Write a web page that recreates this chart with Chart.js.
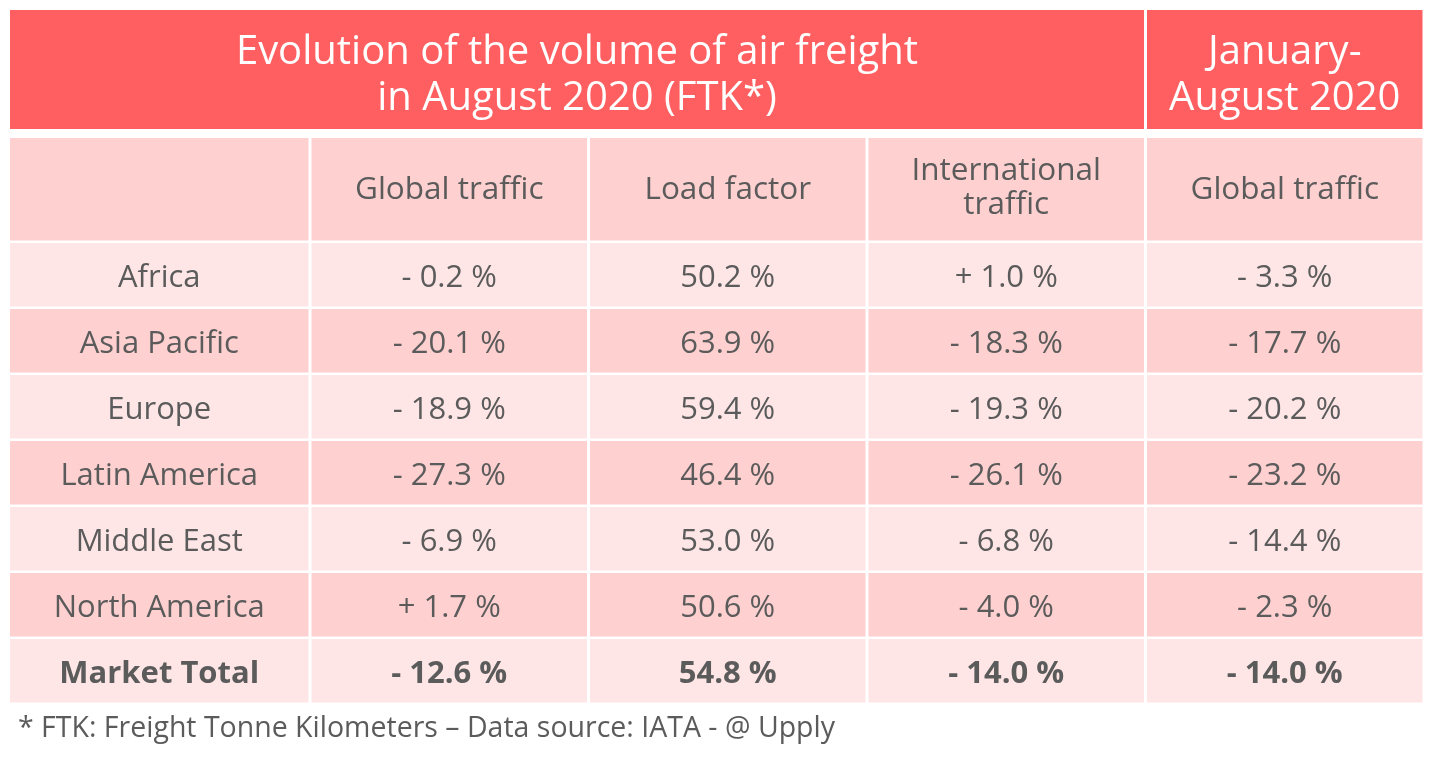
<!DOCTYPE html>
<html>
<head>
<meta charset="utf-8">
<script src="https://cdn.jsdelivr.net/npm/chart.js"></script>
<style>
  body { margin: 0; background: #fff; }
  #wrap { width: 1440px; height: 758px; }
</style>
</head>
<body>
<div id="wrap"><canvas id="freightChart"></canvas></div>
<script>
// data
const regions = ['Africa', 'Asia Pacific', 'Europe', 'Latin America', 'Middle East', 'North America', 'Market Total']
const columns = ['Global traffic', 'Load factor', 'International\ntraffic', 'Global traffic']
const globalTraffic = [-0.2, -20.1, -18.9, -27.3, -6.9, 1.7, -12.6]
const loadFactor = [50.2, 63.9, 59.4, 46.4, 53.0, 50.6, 54.8]
const intlTraffic = [1.0, -18.3, -19.3, -26.1, -6.8, -4.0, -14.0]
const ytdTraffic = [-3.3, -17.7, -20.2, -23.2, -14.4, -2.3, -14.0]
const signed = [true, false, true, true]
const title = ['Evolution of the volume of air freight', 'in August 2020 (FTK*)']
const ytdTitle = ['January-', 'August 2020']
const footnote = '* FTK: Freight Tonne Kilometers \u2013 Data source: IATA - @ Upply'

const series = [globalTraffic, loadFactor, intlTraffic, ytdTraffic]

const RED = '#ff5f61'
const PINK = '#ffd0d0'
const LIGHT = '#ffe6e6'
const TEXT = '#5b5b5b'
const FONT = '"Open Sans", sans-serif'

function fmt(v, sign) {
    const s = Math.abs(v).toFixed(1) + ' %'
    if (!sign) return s
    return (v < 0 ? '- ' : '+ ') + s
}

function text(ctx, str, x, yMid, size, weight, color) {
    ctx.font = weight + ' ' + size + 'px ' + FONT
    ctx.fillStyle = color
    ctx.textAlign = 'center'
    ctx.textBaseline = 'alphabetic'
    ctx.fillText(str, x, yMid + size * 0.357)
}

// draws the table cells from the x (columns) and y (regions) scales
const tablePlugin = {
    id: 'tableCells',
    beforeDraw(chart) {
        const ctx = chart.ctx
        const xs = chart.scales.x
        const ys = chart.scales.y
        const area = chart.chartArea
        const colW = xs.width / columns.length
        const rowH = ys.height / regions.length
        const gx = 3, gy = 2.5
        const left = 10
        const labelRight = area.left - 1.5
        const labelMid = (left + labelRight) / 2

        ctx.save()

        // title row
        const headBottom = area.top - gy / 2
        const headTop = headBottom - 102.5
        const titleBottom = headTop - 9
        const titleTop = titleBottom - 119
        const lastLeft = xs.getPixelForValue(columns.length - 1) - colW / 2 + gx / 2
        ctx.fillStyle = RED
        ctx.fillRect(left, titleTop, lastLeft - gx - left, titleBottom - titleTop)
        ctx.fillRect(lastLeft, titleTop, area.right - gx / 2 - lastLeft, titleBottom - titleTop)
        const tMid = (titleTop + titleBottom) / 2
        title.forEach((t, i) => text(ctx, t, (left + lastLeft - gx) / 2, tMid - 19.5 + i * 46, 40, '400', '#fff'))
        ytdTitle.forEach((t, i) => text(ctx, t, (lastLeft + area.right - gx / 2) / 2, tMid - 19.5 + i * 46, 40, '400', '#fff'))

        // column header row
        ctx.fillStyle = PINK
        ctx.fillRect(left, headTop, labelRight - left, headBottom - headTop)
        const hMid = (headTop + headBottom) / 2
        columns.forEach((c, j) => {
            const cx = xs.getPixelForValue(j)
            ctx.fillStyle = PINK
            ctx.fillRect(cx - colW / 2 + gx / 2, headTop, colW - gx, headBottom - headTop)
            const lines = c.split('\n')
            const shift = lines.length > 1 ? -3.5 : -1
            lines.forEach((ln, k) => text(ctx, ln, cx, hMid + shift + (k - (lines.length - 1) / 2) * 34, 31.5, '400', TEXT))
        })

        // data rows
        regions.forEach((r, i) => {
            const cy = ys.getPixelForValue(i)
            const top = cy - rowH / 2 + gy / 2
            const h = rowH - gy
            const bg = i % 2 === 0 ? LIGHT : PINK
            const bold = i === regions.length - 1 ? '700' : '400'
            ctx.fillStyle = bg
            ctx.fillRect(left, top, labelRight - left, h)
            text(ctx, r, labelMid, cy + 1.5, 31, bold, TEXT)
            series.forEach((s, j) => {
                const cx = xs.getPixelForValue(j)
                ctx.fillStyle = bg
                ctx.fillRect(cx - colW / 2 + gx / 2, top, colW - gx, h)
                text(ctx, fmt(s[i], signed[j]), cx, cy + 1.5, 31, bold, TEXT)
            })
        })

        // footnote
        ctx.font = '400 28.5px ' + FONT
        ctx.fillStyle = TEXT
        ctx.textAlign = 'left'
        ctx.fillText(footnote, 18, area.bottom + 33)

        ctx.restore()
    }
}

new Chart(document.getElementById('freightChart'), {
    type: 'bar',
    data: {
        labels: columns,
        datasets: []
    },
    options: {
        responsive: true,
        maintainAspectRatio: false,
        animation: false,
        layout: { padding: { left: 310, right: 16, top: 241.75, bottom: 54.25 } },
        plugins: { legend: { display: false }, tooltip: { enabled: false } },
        scales: {
            x: { type: 'category', labels: columns, offset: true, display: false },
            y: { type: 'category', labels: regions, offset: true, display: false }
        }
    },
    plugins: [tablePlugin]
})
</script>
</body>
</html>
